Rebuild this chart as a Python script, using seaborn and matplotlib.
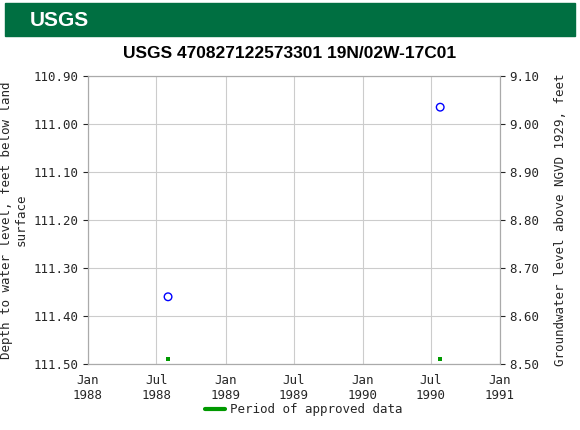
import matplotlib
matplotlib.use("Agg")
import matplotlib.pyplot as plt
import seaborn as sns
import pandas as pd
from matplotlib.patches import Rectangle
from matplotlib.lines import Line2D

dates = ["1988-08-01", "1990-07-26"]
depth = [111.36, 110.965]
approved_dates = ["1988-08-01", "1990-07-26"]
approved_level = [111.49, 111.49]
title = "USGS 470827122573301 19N/02W-17C01"

sns.set_style("white")
mono = "DejaVu Sans Mono"
df = pd.DataFrame({"date": pd.to_datetime(dates), "depth": depth})
ap = pd.DataFrame({"date": pd.to_datetime(approved_dates), "lvl": approved_level})

fig = plt.figure(figsize=(5.8, 4.3), dpi=100)
ax = fig.add_axes([0.1517, 0.1535, 0.7103, 0.6698])
sns.scatterplot(data=df, x="date", y="depth", ax=ax, marker="o", s=30,
                facecolors="none", edgecolor="#0000ff", linewidth=1)
sns.scatterplot(data=ap, x="date", y="lvl", ax=ax, marker="s", s=8,
                color="#009900", edgecolor="none")
ax.set_xlim(pd.Timestamp("1988-01-01"), pd.Timestamp("1991-01-01"))
ax.set_ylim(111.50, 110.90)
ax.set_yticks([110.9, 111.0, 111.1, 111.2, 111.3, 111.4, 111.5])
ax.set_yticklabels([f"{v:.2f}" for v in ax.get_yticks()], family=mono, fontsize=9)
ticks = pd.date_range("1988-01-01", "1991-01-01", freq="6MS")
ax.set_xticks(ticks)
ax.set_xticklabels([f"{t.strftime('%b')}\n{t.year}" for t in ticks], family=mono, fontsize=9)
ax.grid(True, color="#cccccc", linewidth=0.8)
ax.set_xlabel("")
ax.set_ylabel("Depth to water level, feet below land\nsurface", family=mono, fontsize=9)
for s in ax.spines.values():
    s.set_color("#aaaaaa")

ax2 = ax.twinx()
ax2.set_ylim(8.50, 9.10)
ax2.set_yticks([8.5, 8.6, 8.7, 8.8, 8.9, 9.0, 9.1])
ax2.set_yticklabels([f"{v:.2f}" for v in ax2.get_yticks()], family=mono, fontsize=9)
ax2.set_ylabel("Groundwater level above NGVD 1929, feet", family=mono, fontsize=9, labelpad=10)
for s in ax2.spines.values():
    s.set_color("#aaaaaa")

fig.text(0.5, 0.875, title, ha="center", va="center", fontsize=12.5,
         fontweight="bold", family="Liberation Sans", color="black")
fig.patches.append(Rectangle((5/580, 1-36/430), 570/580, 33/430,
                             transform=fig.transFigure, color="#006F41"))
fig.text(30/580, 1-20/430, "USGS", color="white", fontsize=15, fontweight="bold",
         family="Liberation Sans", va="center")
fig.lines.append(Line2D([205/580, 225/580], [1-409/430]*2, transform=fig.transFigure,
                        color="#009900", linewidth=3))
fig.text(230/580, 1-409/430, "Period of approved data", family=mono, fontsize=9, va="center")
fig.savefig("out.png", dpi=100)
